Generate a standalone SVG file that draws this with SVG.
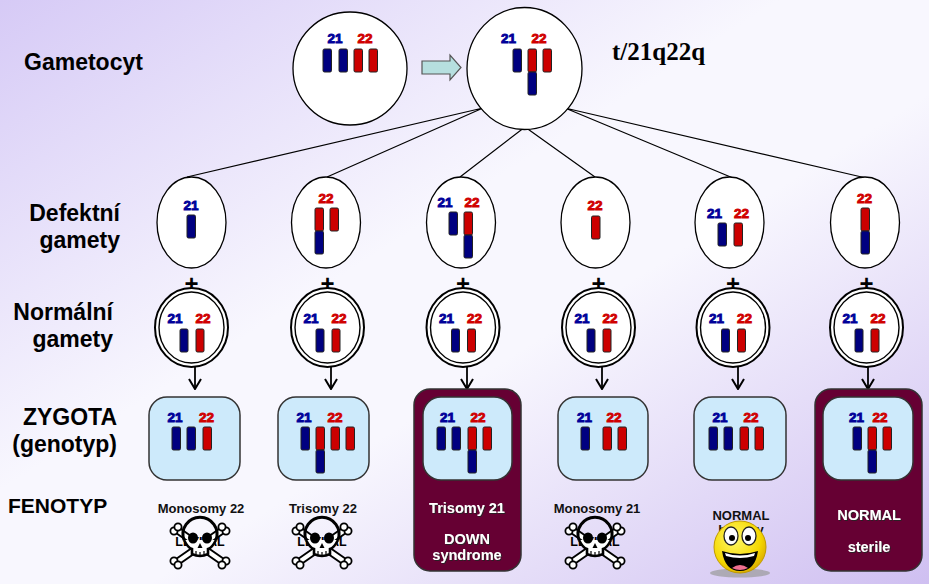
<svg xmlns="http://www.w3.org/2000/svg" width="929" height="584" viewBox="0 0 929 584">
  <defs>
    <linearGradient id="bg" x1="0" y1="0" x2="1" y2="1">
      <stop offset="0" stop-color="#d6caf6"/>
      <stop offset="0.42" stop-color="#f8f7fe"/>
      <stop offset="0.58" stop-color="#f8f7fe"/>
      <stop offset="1" stop-color="#cfbff1"/>
    </linearGradient>
    <radialGradient id="sun" cx="0.4" cy="0.35" r="0.7">
      <stop offset="0" stop-color="#fff86a"/>
      <stop offset="0.7" stop-color="#f5d800"/>
      <stop offset="1" stop-color="#d9a800"/>
    </radialGradient>
    <filter id="shade" x="-10%" y="-30%" width="120%" height="160%">
      <feDropShadow dx="1" dy="1" stdDeviation="0.4" flood-color="#222" flood-opacity="0.9"/>
    </filter>
    <marker id="vhead" viewBox="-1 -7 12 14" refX="10" refY="0" markerWidth="12" markerHeight="14" markerUnits="userSpaceOnUse" orient="auto">
      <path d="M0,-6 L10,0 L0,6" fill="none" stroke="#000" stroke-width="2"/>
    </marker>
    <g id="skull">
      <path d="M-23,-6 L23,26 M23,-6 L-23,26" stroke="#000" stroke-width="8" stroke-linecap="round"/>
      <path d="M-23,-6 L23,26 M23,-6 L-23,26" stroke="#fff" stroke-width="4" stroke-linecap="round"/>
      <g fill="#fff" stroke="#000" stroke-width="1.8">
        <circle cx="-26" cy="-5" r="3.6"/><circle cx="-22" cy="-9" r="3.6"/>
        <circle cx="26" cy="-5" r="3.6"/><circle cx="22" cy="-9" r="3.6"/>
        <circle cx="-26" cy="25" r="3.6"/><circle cx="-22" cy="29" r="3.6"/>
        <circle cx="26" cy="25" r="3.6"/><circle cx="22" cy="29" r="3.6"/>
      </g>
      <path d="M-16,4 A17,17 0 1 1 16,4" fill="none" stroke="#000" stroke-width="3"/>
      <path d="M-16,4 Q-12,12 -8,13 L-8,18 Q0,22 8,18 L8,13 Q12,12 16,4" fill="#fff" stroke="#000" stroke-width="2.6"/>
      <ellipse cx="-7" cy="2" rx="5" ry="5.5" fill="#000"/>
      <ellipse cx="7" cy="2" rx="5" ry="5.5" fill="#000"/>
      <path d="M0,7 L-2.5,12 L2.5,12 Z" fill="#000"/>
      <path d="M-4,15 V19 M0,16 V20 M4,15 V19" stroke="#000" stroke-width="1.2"/>
    </g>
  </defs>
  <style>
    .lbl { font-family: "Liberation Sans", Arial, sans-serif; font-weight: bold; font-size: 23px; fill: #000; }
    .lbl.small { font-size: 21px; }
    .num { font-family: "Liberation Sans", Arial, sans-serif; font-weight: bold; font-size: 13.5px; text-anchor: middle; stroke-width: 0.9; }
    .n21 { fill: #000099; stroke: #000099; }
    .n22 { fill: #d00000; stroke: #d00000; }
    .cb { fill: #000080; stroke: #222; stroke-width: 1; }
    .cr { fill: #cc0000; stroke: #222; stroke-width: 1; }
    .cell { fill: #fff; stroke: #000; stroke-width: 1.3; }
    .ring { fill: #fff; stroke: #000; stroke-width: 2; }
    .ring2 { fill: none; stroke: #000; stroke-width: 1.4; }
    .zyg { fill: #cdeafb; stroke: #333; stroke-width: 1.5; }
    .ph { fill: #660033; stroke: #333; stroke-width: 1.5; }
    .fen { font-family: "Liberation Sans", Arial, sans-serif; font-weight: bold; font-size: 13px; text-anchor: middle; fill: #111; }
    .wt { fill: #fff; font-size: 14.5px; filter: url(#shade); }
    .leth { font-family: "Liberation Sans", Arial, sans-serif; font-weight: bold; font-size: 12.5px; text-anchor: middle; fill: #000; }
    .plus { font-family: "Liberation Sans", Arial, sans-serif; font-weight: bold; font-size: 24px; text-anchor: middle; fill: #000; }
    .link { stroke: #000; stroke-width: 1.2; fill: none; }
    .down { stroke: #000; stroke-width: 1.8; fill: none; marker-end: url(#vhead); }
  </style>

  <rect width="929" height="584" fill="url(#bg)"/>

  <!-- row labels -->
  <g id="labels">
    <text class="lbl" x="24" y="70">Gametocyt</text>
    <text class="lbl" x="120" y="221" text-anchor="end">Defektní</text>
    <text class="lbl" x="120" y="248" text-anchor="end">gamety</text>
    <text class="lbl" x="113" y="320" text-anchor="end">Normální</text>
    <text class="lbl" x="113" y="347" text-anchor="end">gamety</text>
    <text class="lbl" x="117" y="425" text-anchor="end">ZYGOTA</text>
    <text class="lbl" x="117" y="452" text-anchor="end">(genotyp)</text>
    <text class="lbl small" x="8" y="513">FENOTYP</text>
    <text x="612" y="60" font-family="'Liberation Serif', 'Times New Roman', serif" font-weight="bold" font-size="25">t/21q22q</text>
  </g>

  <!-- connectors -->
  <g id="connectors">
    <path class="link" d="M483,108 L187,177 M483,108 L327,177 M525,127 L460,177 M525,127 L595,177 M565,108 L733,178 M565,108 L866,178"/>
    <path d="M422,61 H450 V55 L461,67.5 L450,80 V74 H422 Z" fill="#b6dfdf" stroke="#555" stroke-width="1.2"/>
    <line class="down" x1="195" y1="367" x2="195" y2="389"/>
    <line class="down" x1="331" y1="367" x2="331" y2="389"/>
    <line class="down" x1="467" y1="367" x2="467" y2="389"/>
    <line class="down" x1="602" y1="367" x2="602" y2="389"/>
    <line class="down" x1="738" y1="367" x2="738" y2="389"/>
    <line class="down" x1="868" y1="367" x2="868" y2="389"/>
  </g>

  <!-- gametocyte before and after translocation -->
  <g id="gametocyte">
    <ellipse class="cell" cx="350" cy="68.5" rx="57" ry="56.5"/>
    <text class="num n21" x="335" y="43">21</text>
    <text class="num n22" x="365" y="43">22</text>
    <rect class="cb" x="323" y="49" width="8.5" height="23" rx="1.5"/>
    <rect class="cb" x="339" y="49" width="8.5" height="23" rx="1.5"/>
    <rect class="cr" x="354" y="49" width="8.5" height="23" rx="1.5"/>
    <rect class="cr" x="369" y="49" width="8.5" height="23" rx="1.5"/>
  </g>
  <g id="gametocyte-t">
    <ellipse class="cell" cx="524.5" cy="68.5" rx="57.5" ry="61"/>
    <text class="num n21" x="508.5" y="43">21</text>
    <text class="num n22" x="539" y="43">22</text>
    <rect class="cb" x="513" y="49" width="8.5" height="23" rx="1.5"/>
    <rect class="cr" x="528" y="49" width="8.5" height="23" rx="1.5"/>
    <rect class="cb" x="528" y="72" width="8.5" height="23" rx="1.5"/>
    <rect class="cr" x="543" y="49" width="8.5" height="23" rx="1.5"/>
  </g>

  <!-- defective gametes -->
  <g id="gamete-d1">
    <ellipse class="cell" cx="191.5" cy="222.5" rx="34.5" ry="45.5"/>
    <text class="num n21" x="191" y="210">21</text>
    <rect class="cb" x="187" y="215" width="8.5" height="23" rx="1.5"/>
  </g>
  <g id="gamete-d2">
    <ellipse class="cell" cx="326" cy="222.5" rx="34.5" ry="45.5"/>
    <text class="num n22" x="326" y="203">22</text>
    <rect class="cr" x="315" y="208" width="8.5" height="23" rx="1.5"/>
    <rect class="cb" x="315" y="231" width="8.5" height="23" rx="1.5"/>
    <rect class="cr" x="330" y="208" width="8.5" height="23" rx="1.5"/>
  </g>
  <g id="gamete-d3">
    <ellipse class="cell" cx="461" cy="222.5" rx="34.5" ry="45.5"/>
    <text class="num n21" x="445" y="207">21</text>
    <text class="num n22" x="472" y="207">22</text>
    <rect class="cb" x="449" y="212" width="8.5" height="23" rx="1.5"/>
    <rect class="cr" x="464" y="212" width="8.5" height="23" rx="1.5"/>
    <rect class="cb" x="464" y="235" width="8.5" height="23" rx="1.5"/>
  </g>
  <g id="gamete-d4">
    <ellipse class="cell" cx="595.5" cy="222.5" rx="34.5" ry="45.5"/>
    <text class="num n22" x="595" y="210">22</text>
    <rect class="cr" x="591.5" y="216" width="8.5" height="23" rx="1.5"/>
  </g>
  <g id="gamete-d5">
    <ellipse class="cell" cx="729.5" cy="222.5" rx="34.5" ry="45.5"/>
    <text class="num n21" x="714.5" y="218">21</text>
    <text class="num n22" x="741.5" y="218">22</text>
    <rect class="cb" x="718" y="223" width="8.5" height="23" rx="1.5"/>
    <rect class="cr" x="734" y="223" width="8.5" height="23" rx="1.5"/>
  </g>
  <g id="gamete-d6">
    <ellipse class="cell" cx="865" cy="222.5" rx="34.5" ry="45.5"/>
    <text class="num n22" x="864.5" y="203">22</text>
    <rect class="cr" x="861" y="208" width="8.5" height="23" rx="1.5"/>
    <rect class="cb" x="861" y="231" width="8.5" height="23" rx="1.5"/>
  </g>

  <!-- normal gametes -->
  <g id="gamete-n1" transform="translate(191.5,0)">
    <text class="plus" x="0" y="292">+</text>
    <ellipse class="ring" cx="0" cy="327.5" rx="36.5" ry="39.5"/>
    <ellipse class="ring2" cx="0" cy="327.5" rx="32.5" ry="35.5"/>
    <text class="num n21" x="-16.5" y="323">21</text>
    <text class="num n22" x="11.5" y="323">22</text>
    <rect class="cb" x="-11.5" y="329" width="8" height="23" rx="1.5"/>
    <rect class="cr" x="4.5" y="329" width="8" height="23" rx="1.5"/>
  </g>
  <g id="gamete-n2" transform="translate(327.5,0)">
    <text class="plus" x="0" y="292">+</text>
    <ellipse class="ring" cx="0" cy="327.5" rx="36.5" ry="39.5"/>
    <ellipse class="ring2" cx="0" cy="327.5" rx="32.5" ry="35.5"/>
    <text class="num n21" x="-16.5" y="323">21</text>
    <text class="num n22" x="11.5" y="323">22</text>
    <rect class="cb" x="-11.5" y="329" width="8" height="23" rx="1.5"/>
    <rect class="cr" x="4.5" y="329" width="8" height="23" rx="1.5"/>
  </g>
  <g id="gamete-n3" transform="translate(463,0)">
    <text class="plus" x="0" y="292">+</text>
    <ellipse class="ring" cx="0" cy="327.5" rx="36.5" ry="39.5"/>
    <ellipse class="ring2" cx="0" cy="327.5" rx="32.5" ry="35.5"/>
    <text class="num n21" x="-16.5" y="323">21</text>
    <text class="num n22" x="11.5" y="323">22</text>
    <rect class="cb" x="-11.5" y="329" width="8" height="23" rx="1.5"/>
    <rect class="cr" x="4.5" y="329" width="8" height="23" rx="1.5"/>
  </g>
  <g id="gamete-n4" transform="translate(598.5,0)">
    <text class="plus" x="0" y="292">+</text>
    <ellipse class="ring" cx="0" cy="327.5" rx="36.5" ry="39.5"/>
    <ellipse class="ring2" cx="0" cy="327.5" rx="32.5" ry="35.5"/>
    <text class="num n21" x="-16.5" y="323">21</text>
    <text class="num n22" x="11.5" y="323">22</text>
    <rect class="cb" x="-11.5" y="329" width="8" height="23" rx="1.5"/>
    <rect class="cr" x="4.5" y="329" width="8" height="23" rx="1.5"/>
  </g>
  <g id="gamete-n5" transform="translate(733,0)">
    <text class="plus" x="0" y="292">+</text>
    <ellipse class="ring" cx="0" cy="327.5" rx="36.5" ry="39.5"/>
    <ellipse class="ring2" cx="0" cy="327.5" rx="32.5" ry="35.5"/>
    <text class="num n21" x="-16.5" y="323">21</text>
    <text class="num n22" x="11.5" y="323">22</text>
    <rect class="cb" x="-11.5" y="329" width="8" height="23" rx="1.5"/>
    <rect class="cr" x="4.5" y="329" width="8" height="23" rx="1.5"/>
  </g>
  <g id="gamete-n6" transform="translate(866.5,0)">
    <text class="plus" x="0" y="292">+</text>
    <ellipse class="ring" cx="0" cy="327.5" rx="36.5" ry="39.5"/>
    <ellipse class="ring2" cx="0" cy="327.5" rx="32.5" ry="35.5"/>
    <text class="num n21" x="-16.5" y="323">21</text>
    <text class="num n22" x="11.5" y="323">22</text>
    <rect class="cb" x="-11.5" y="329" width="8" height="23" rx="1.5"/>
    <rect class="cr" x="4.5" y="329" width="8" height="23" rx="1.5"/>
  </g>

  <!-- zygotes with phenotypes -->
  <g id="zygote-1">
    <rect class="zyg" x="149" y="397" width="91" height="83" rx="18"/>
    <text class="num n21" x="175" y="422">21</text>
    <text class="num n22" x="206.5" y="422">22</text>
    <rect class="cb" x="172" y="427" width="8.5" height="23" rx="1.5"/>
    <rect class="cb" x="187" y="427" width="8.5" height="23" rx="1.5"/>
    <rect class="cr" x="203" y="427" width="8.5" height="23" rx="1.5"/>
    <text class="fen" x="201" y="513">Monosomy 22</text>
    <text class="leth" x="200" y="546">LETHAL</text>
    <use href="#skull" x="200" y="536"/>
  </g>
  <g id="zygote-2">
    <rect class="zyg" x="278" y="397" width="91" height="83" rx="18"/>
    <text class="num n21" x="304" y="422">21</text>
    <text class="num n22" x="335" y="422">22</text>
    <rect class="cb" x="301" y="427" width="8.5" height="23" rx="1.5"/>
    <rect class="cr" x="316" y="427" width="8.5" height="23" rx="1.5"/>
    <rect class="cb" x="316" y="450" width="8.5" height="23" rx="1.5"/>
    <rect class="cr" x="331" y="427" width="8.5" height="23" rx="1.5"/>
    <rect class="cr" x="346" y="427" width="8.5" height="23" rx="1.5"/>
    <text class="fen" x="323" y="513">Trisomy 22</text>
    <text class="leth" x="322" y="546">LETHAL</text>
    <use href="#skull" x="322" y="536"/>
  </g>
  <g id="zygote-3">
    <rect class="ph" x="414" y="389" width="107" height="182" rx="16"/>
    <rect class="zyg" x="423" y="397" width="89" height="83" rx="18"/>
    <text class="num n21" x="447.5" y="422">21</text>
    <text class="num n22" x="478" y="422">22</text>
    <rect class="cb" x="437" y="427" width="8.5" height="23" rx="1.5"/>
    <rect class="cb" x="452" y="427" width="8.5" height="23" rx="1.5"/>
    <rect class="cr" x="468" y="427" width="8.5" height="23" rx="1.5"/>
    <rect class="cb" x="468" y="450" width="8.5" height="23" rx="1.5"/>
    <rect class="cr" x="483" y="427" width="8.5" height="23" rx="1.5"/>
    <text class="fen wt" x="467" y="513">Trisomy 21</text>
    <text class="fen wt" x="467" y="544">DOWN</text>
    <text class="fen wt" x="467" y="560">syndrome</text>
  </g>
  <g id="zygote-4">
    <rect class="zyg" x="558" y="397" width="90" height="83" rx="18"/>
    <text class="num n21" x="584.5" y="422">21</text>
    <text class="num n22" x="614" y="422">22</text>
    <rect class="cb" x="581" y="427" width="8.5" height="23" rx="1.5"/>
    <rect class="cr" x="603" y="427" width="8.5" height="23" rx="1.5"/>
    <rect class="cr" x="618" y="427" width="8.5" height="23" rx="1.5"/>
    <text class="fen" x="597" y="513">Monosomy 21</text>
    <text class="leth" x="595" y="546">LETHAL</text>
    <use href="#skull" x="595" y="536"/>
  </g>
  <g id="zygote-5">
    <rect class="zyg" x="694" y="397" width="92" height="83" rx="18"/>
    <text class="num n21" x="720" y="422">21</text>
    <text class="num n22" x="751" y="422">22</text>
    <rect class="cb" x="709" y="427" width="8.5" height="23" rx="1.5"/>
    <rect class="cb" x="724" y="427" width="8.5" height="23" rx="1.5"/>
    <rect class="cr" x="740" y="427" width="8.5" height="23" rx="1.5"/>
    <rect class="cr" x="755" y="427" width="8.5" height="23" rx="1.5"/>
    <text class="fen" x="741" y="520">NORMAL</text>
    <text class="fen" x="741" y="534">healthy</text>
    <!-- smiley -->
    <ellipse cx="740" cy="573" rx="30" ry="4.5" fill="#9a9a9a" opacity="0.7"/>
    <circle cx="740" cy="547" r="26" fill="url(#sun)" stroke="#c09a00" stroke-width="1"/>
    <ellipse cx="731" cy="536" rx="7" ry="9" fill="#fff" stroke="#222" stroke-width="1.3"/>
    <ellipse cx="749" cy="536" rx="7" ry="9" fill="#fff" stroke="#222" stroke-width="1.3"/>
    <circle cx="732" cy="538" r="3" fill="#000"/>
    <circle cx="748" cy="538" r="3" fill="#000"/>
    <path d="M722,551 Q740,557 758,551 Q755,571 740,571 Q725,571 722,551 Z" fill="#000"/>
    <path d="M725,553 Q740,558 755,553 L754,556 Q740,560 726,556 Z" fill="#fff"/>
    <path d="M732,568 Q740,562 748,568 Q740,572 732,568 Z" fill="#f07090"/>
  </g>
  <g id="zygote-6">
    <rect class="ph" x="815" y="389" width="107" height="182" rx="16"/>
    <rect class="zyg" x="823" y="397" width="90" height="83" rx="18"/>
    <text class="num n21" x="856.5" y="422">21</text>
    <text class="num n22" x="880" y="422">22</text>
    <rect class="cb" x="853" y="427" width="8.5" height="23" rx="1.5"/>
    <rect class="cr" x="868" y="427" width="8.5" height="23" rx="1.5"/>
    <rect class="cb" x="868" y="450" width="8.5" height="23" rx="1.5"/>
    <rect class="cr" x="883" y="427" width="8.5" height="23" rx="1.5"/>
    <text class="fen wt" x="869" y="520">NORMAL</text>
    <text class="fen wt" x="869" y="552">sterile</text>
  </g>
</svg>
